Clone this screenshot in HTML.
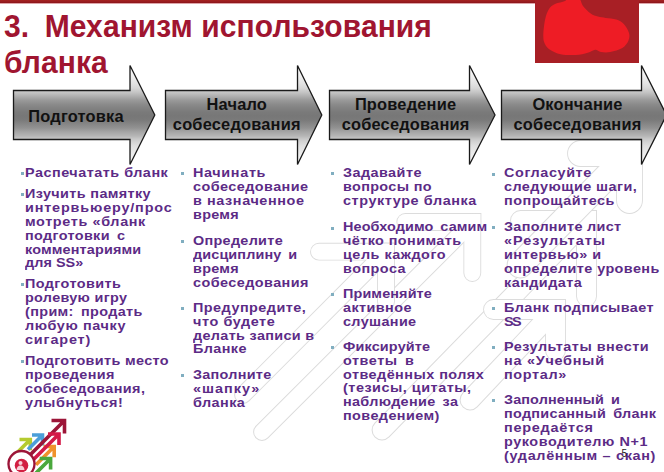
<!DOCTYPE html>
<html><head><meta charset="utf-8">
<style>
*{margin:0;padding:0;box-sizing:border-box}
html,body{width:664px;height:472px;overflow:hidden;background:#fff}
body{position:relative;font-family:"Liberation Sans",sans-serif}
.abs{position:absolute}
#topbar{left:0;top:0;width:664px;height:3px;background:linear-gradient(#a5231f,#9a1d20 50%,#8a151a);box-shadow:0 1px 0 rgba(170,30,40,0.4)}
#redbox{left:535px;top:0;width:104px;height:63px;background:#a81f25;overflow:hidden}
.title{position:absolute;left:4px;font-size:30px;font-weight:bold;color:#a01530;white-space:pre;line-height:34px;letter-spacing:0.08px;transform:scaleY(1.07);transform-origin:0 27px}
.title s{text-decoration:none;letter-spacing:-0.6px}
.atext{position:absolute;font-size:16.4px;letter-spacing:0.2px;font-weight:bold;color:#111;text-align:center;line-height:20px;white-space:nowrap}
.ln{position:absolute;font-size:12px;font-weight:bold;color:#5c2b86;white-space:pre;line-height:13.8px;transform-origin:0 0;transform:scaleX(1.2)}
.ln i{font-style:normal;letter-spacing:-1px}
.b{position:absolute;width:3px;height:3px;background:#80aec0}
</style></head><body>
<!-- WM -->
<svg class="abs" style="left:0;top:0" width="664" height="472">
<g fill="none" stroke="#dcdcdc" stroke-width="1.8"><path d="M405.3 214.0 H480.3 V230.0 H405.3 A8.0 8.0 0 0 1 405.3 214.0 Z"/><path d="M480.3 214.0 V273.0 A8.0 8.0 0 0 1 464.3 273.0 V214.0 Z"/></g>
<g stroke="#dcdcdc"><line x1="472.3" y1="222.0" x2="262.0" y2="432.0" stroke-width="17.8" stroke-linecap="round"/></g>
<g fill="#fff" stroke="none"><path d="M405.3 214.0 H480.3 V230.0 H405.3 A8.0 8.0 0 0 1 405.3 214.0 Z"/><path d="M480.3 214.0 V273.0 A8.0 8.0 0 0 1 464.3 273.0 V214.0 Z"/></g>
<g stroke="#fff"><line x1="472.3" y1="222.0" x2="262.0" y2="432.0" stroke-width="15.8" stroke-linecap="round"/></g>
<g fill="none" stroke="#dcdcdc" stroke-width="1.8"><path d="M319.0 243.7 H394.0 V259.7 H319.0 A8.0 8.0 0 0 1 319.0 243.7 Z"/><path d="M394.0 243.7 V301.7 A8.0 8.0 0 0 1 378.0 301.7 V243.7 Z"/></g>
<g stroke="#dcdcdc"><line x1="386.0" y1="251.7" x2="243.0" y2="395.0" stroke-width="17.8" stroke-linecap="round"/></g>
<g fill="#fff" stroke="none"><path d="M319.0 243.7 H394.0 V259.7 H319.0 A8.0 8.0 0 0 1 319.0 243.7 Z"/><path d="M394.0 243.7 V301.7 A8.0 8.0 0 0 1 378.0 301.7 V243.7 Z"/></g>
<g stroke="#fff"><line x1="386.0" y1="251.7" x2="243.0" y2="395.0" stroke-width="15.8" stroke-linecap="round"/></g>
<g fill="none" stroke="#dcdcdc" stroke-width="1.8"><path d="M520.5 211.0 H596.0 V230.0 H520.5 A9.5 9.5 0 0 1 520.5 211.0 Z"/><path d="M596.0 211.0 V296.5 A9.5 9.5 0 0 1 577.0 296.5 V211.0 Z"/></g>
<g stroke="#dcdcdc"><line x1="586.5" y1="220.5" x2="382.0" y2="430.0" stroke-width="20.8" stroke-linecap="round"/></g>
<g fill="#fff" stroke="none"><path d="M520.5 211.0 H596.0 V230.0 H520.5 A9.5 9.5 0 0 1 520.5 211.0 Z"/><path d="M596.0 211.0 V296.5 A9.5 9.5 0 0 1 577.0 296.5 V211.0 Z"/></g>
<g stroke="#fff"><line x1="586.5" y1="220.5" x2="382.0" y2="430.0" stroke-width="18.8" stroke-linecap="round"/></g>
<g fill="none" stroke="#dcdcdc" stroke-width="1.8"><path d="M580.5 141.0 H642.0 V166.0 H580.5 A12.5 12.5 0 0 1 580.5 141.0 Z"/><path d="M642.0 141.0 V200.5 A12.5 12.5 0 0 1 617.0 200.5 V141.0 Z"/></g>
<g stroke="#dcdcdc"><line x1="629.5" y1="153.5" x2="520.0" y2="265.0" stroke-width="26.8" stroke-linecap="round"/></g>
<g fill="#fff" stroke="none"><path d="M580.5 141.0 H642.0 V166.0 H580.5 A12.5 12.5 0 0 1 580.5 141.0 Z"/><path d="M642.0 141.0 V200.5 A12.5 12.5 0 0 1 617.0 200.5 V141.0 Z"/></g>
<g stroke="#fff"><line x1="629.5" y1="153.5" x2="520.0" y2="265.0" stroke-width="24.8" stroke-linecap="round"/></g>
<g fill="none" stroke="#dcdcdc" stroke-width="1.8"><path d="M493.5 300.0 H565.0 V319.0 H493.5 A9.5 9.5 0 0 1 493.5 300.0 Z"/><path d="M565.0 300.0 V350.5 A9.5 9.5 0 0 1 546.0 350.5 V300.0 Z"/></g>
<g stroke="#dcdcdc"><line x1="555.5" y1="309.5" x2="470.0" y2="400.0" stroke-width="20.8" stroke-linecap="round"/></g>
<g fill="#fff" stroke="none"><path d="M493.5 300.0 H565.0 V319.0 H493.5 A9.5 9.5 0 0 1 493.5 300.0 Z"/><path d="M565.0 300.0 V350.5 A9.5 9.5 0 0 1 546.0 350.5 V300.0 Z"/></g>
<g stroke="#fff"><line x1="555.5" y1="309.5" x2="470.0" y2="400.0" stroke-width="18.8" stroke-linecap="round"/></g>
</svg>
<!-- /WM -->
<svg class="abs" style="left:0;top:0" width="664" height="472">
<defs>
<linearGradient id="g" x1="0" y1="65" x2="0" y2="165" gradientUnits="userSpaceOnUse">
<stop offset="0.0000" stop-color="#ffffff"/>
<stop offset="0.1000" stop-color="#f2f2f2"/>
<stop offset="0.1900" stop-color="#e2e2e2"/>
<stop offset="0.2300" stop-color="#d8d8d8"/>
<stop offset="0.2700" stop-color="#c6c6c6"/>
<stop offset="0.3100" stop-color="#b0b0b0"/>
<stop offset="0.3500" stop-color="#9a9a9a"/>
<stop offset="0.3900" stop-color="#8c8c8c"/>
<stop offset="0.4300" stop-color="#828282"/>
<stop offset="0.4700" stop-color="#7a7a7a"/>
<stop offset="0.5100" stop-color="#777777"/>
<stop offset="0.5500" stop-color="#7a7a7a"/>
<stop offset="0.5900" stop-color="#868686"/>
<stop offset="0.6300" stop-color="#929292"/>
<stop offset="0.6700" stop-color="#a6a6a6"/>
<stop offset="0.7100" stop-color="#b6b6b6"/>
<stop offset="0.7400" stop-color="#c8c8c8"/>
<stop offset="0.7700" stop-color="#d4d4d4"/>
<stop offset="0.8100" stop-color="#e0e0e0"/>
<stop offset="0.9000" stop-color="#eeeeee"/>
<stop offset="1.0000" stop-color="#fafafa"/>
</linearGradient>
</defs>
<g fill="url(#g)" stroke="#1a1a1a" stroke-width="1.3">
<path d="M13.5 90.5 H130.0 V65.5 L154.8 115 L130.0 164.5 V139.5 H13.5 Z"/>
<path d="M165.5 90.5 H297.5 V65.5 L321.8 115 L297.5 164.5 V139.5 H165.5 Z"/>
<path d="M329.5 90.5 H469.5 V65.5 L495.0 115 L469.5 164.5 V139.5 H329.5 Z"/>
<path d="M501.5 90.5 H641.5 V65.5 L666.5 115 L641.5 164.5 V139.5 H501.5 Z"/>
</g>
</svg>
<div id="topbar" class="abs"></div>
<div id="redbox" class="abs">
<svg width="104" height="63" style="position:absolute;left:0;top:0">
<path fill="#ee1c25" d="M8.3 36.0 C8.3 32.0 9.1 24.5 10.0 20.0 C10.9 15.5 12.3 11.7 14.0 9.0 C15.7 6.3 17.3 5.3 20.0 4.0 C22.7 2.7 27.8 2.0 30.0 1.0 C32.2 0.0 30.7 -1.5 33.0 -2.0 C35.3 -2.5 41.2 -3.3 43.7 -2.0 C46.2 -0.7 46.0 3.4 48.0 6.0 C50.0 8.6 53.2 11.7 55.7 13.5 C58.2 15.3 60.5 15.9 63.0 16.6 C65.5 17.4 67.8 17.5 70.8 18.0 C73.8 18.5 78.3 18.6 81.3 19.6 C84.3 20.6 86.7 21.8 88.8 24.0 C90.9 26.2 93.2 30.2 94.0 33.0 C94.8 35.8 94.5 38.2 93.4 40.7 C92.3 43.2 90.3 46.1 87.3 48.0 C84.3 49.9 78.8 51.3 75.3 52.0 C71.8 52.7 68.5 52.4 66.0 52.0 C63.5 51.6 62.4 49.6 60.2 49.7 C58.0 49.8 56.0 51.8 52.7 52.7 C49.4 53.6 45.1 54.8 40.6 55.0 C36.1 55.2 29.9 55.1 25.6 54.2 C21.3 53.3 17.6 51.5 15.0 49.7 C12.4 48.0 10.9 46.0 9.8 43.7 C8.7 41.4 8.3 40.0 8.3 36.0Z"/>
</svg>
</div>
<div class="title" style="top:10px">3.<s>  </s>Механизм использования</div>
<div class="title" style="top:45.6px">бланка</div>

<div class="atext" style="left:28.3px;top:105.8px">Подготовка</div>
<div class="atext" style="left:136.8px;width:200px;top:94px">Начало<br>собеседования</div>
<div class="atext" style="left:305.6px;width:200px;top:94px">Проведение<br>собеседования</div>
<div class="atext" style="left:477.5px;width:200px;top:94px">Окончание<br>собеседования</div>

<!-- COLS -->
<div class="b" style="left:20.5px;top:171.9px"></div>
<div class="b" style="left:20.5px;top:192.9px"></div>
<div class="b" style="left:20.5px;top:283.0px"></div>
<div class="b" style="left:20.5px;top:359.9px"></div>
<div class="ln" style="left:25.0px;top:166.71px;letter-spacing:0.421px">Распечатать бланк</div>
<div class="ln" style="left:25.0px;top:187.71px;letter-spacing:0.317px">Изучить памятку</div>
<div class="ln" style="left:25.0px;top:201.66px;letter-spacing:0.700px">интервьюеру/прос</div>
<div class="ln" style="left:25.0px;top:215.61px;letter-spacing:0.528px">мотреть «бланк</div>
<div class="ln" style="left:25.0px;top:229.56px;letter-spacing:0.303px">подготовки<i> </i> с</div>
<div class="ln" style="left:25.0px;top:243.51px;letter-spacing:0.136px">комментариями</div>
<div class="ln" style="left:25.0px;top:257.46px;letter-spacing:0.039px">для SS»</div>
<div class="ln" style="left:25.0px;top:277.81px;letter-spacing:0.350px">Подготовить</div>
<div class="ln" style="left:25.0px;top:291.76px;letter-spacing:0.264px">ролевую игру</div>
<div class="ln" style="left:25.0px;top:305.71px;letter-spacing:0.305px">(прим:<i> </i> продать</div>
<div class="ln" style="left:25.0px;top:319.66px;letter-spacing:0.517px">любую пачку</div>
<div class="ln" style="left:25.0px;top:333.61px;letter-spacing:0.710px">сигарет)</div>
<div class="ln" style="left:25.0px;top:354.71px;letter-spacing:0.306px">Подготовить место</div>
<div class="ln" style="left:25.0px;top:368.66px;letter-spacing:0.307px">проведения</div>
<div class="ln" style="left:25.0px;top:382.61px;letter-spacing:0.374px">собеседования,</div>
<div class="ln" style="left:25.0px;top:396.56px;letter-spacing:0.467px">улыбнуться!</div>
<div class="b" style="left:181.1px;top:171.9px"></div>
<div class="b" style="left:181.1px;top:240.3px"></div>
<div class="b" style="left:181.1px;top:306.8px"></div>
<div class="b" style="left:181.1px;top:374.0px"></div>
<div class="ln" style="left:193.0px;top:166.71px;letter-spacing:0.543px">Начинать</div>
<div class="ln" style="left:193.0px;top:180.66px;letter-spacing:0.372px">собеседование</div>
<div class="ln" style="left:193.0px;top:194.61px;letter-spacing:0.497px">в назначенное</div>
<div class="ln" style="left:193.0px;top:208.56px;letter-spacing:0.233px">время</div>
<div class="ln" style="left:193.0px;top:235.11px;letter-spacing:0.252px">Определите</div>
<div class="ln" style="left:193.0px;top:249.06px;letter-spacing:0.108px">дисциплину<i> </i> и</div>
<div class="ln" style="left:193.0px;top:263.01px;letter-spacing:0.233px">время</div>
<div class="ln" style="left:193.0px;top:276.96px;letter-spacing:0.372px">собеседования</div>
<div class="ln" style="left:193.0px;top:301.61px;letter-spacing:0.400px">Предупредите,</div>
<div class="ln" style="left:193.0px;top:315.56px;letter-spacing:0.493px">что будете</div>
<div class="ln" style="left:193.0px;top:329.51px;letter-spacing:0.281px">делать записи в</div>
<div class="ln" style="left:193.0px;top:343.46px;letter-spacing:0.333px">Бланке</div>
<div class="ln" style="left:193.0px;top:368.81px;letter-spacing:0.233px">Заполните</div>
<div class="ln" style="left:193.0px;top:382.76px;letter-spacing:0.844px">«шапку»</div>
<div class="ln" style="left:193.0px;top:396.71px;letter-spacing:0.367px">бланка</div>
<div class="b" style="left:330.5px;top:171.9px"></div>
<div class="b" style="left:330.5px;top:226.5px"></div>
<div class="b" style="left:330.5px;top:293.4px"></div>
<div class="b" style="left:330.5px;top:345.8px"></div>
<div class="ln" style="left:343.0px;top:166.71px;letter-spacing:0.379px">Задавайте</div>
<div class="ln" style="left:343.0px;top:180.66px;letter-spacing:0.289px">вопросы по</div>
<div class="ln" style="left:343.0px;top:194.61px;letter-spacing:0.489px">структуре бланка</div>
<div class="ln" style="left:343.0px;top:221.31px;letter-spacing:0.098px">Необходимо<i> </i> самим</div>
<div class="ln" style="left:343.0px;top:235.26px;letter-spacing:0.349px">чётко понимать</div>
<div class="ln" style="left:343.0px;top:249.21px;letter-spacing:0.430px">цель каждого</div>
<div class="ln" style="left:343.0px;top:263.16px;letter-spacing:0.400px">вопроса</div>
<div class="ln" style="left:343.0px;top:288.21px;letter-spacing:0.104px">Применяйте</div>
<div class="ln" style="left:343.0px;top:302.16px;letter-spacing:0.352px">активное</div>
<div class="ln" style="left:343.0px;top:316.11px;letter-spacing:0.305px">слушание</div>
<div class="ln" style="left:343.0px;top:340.61px;letter-spacing:0.141px">Фиксируйте</div>
<div class="ln" style="left:343.0px;top:354.56px;letter-spacing:0.463px">ответы<i> </i> в</div>
<div class="ln" style="left:343.0px;top:368.51px;letter-spacing:0.389px">отведённых полях</div>
<div class="ln" style="left:343.0px;top:382.46px;letter-spacing:0.433px">(тезисы, цитаты,</div>
<div class="ln" style="left:343.0px;top:396.41px;letter-spacing:0.272px">наблюдение<i> </i> за</div>
<div class="ln" style="left:343.0px;top:410.36px;letter-spacing:0.350px">поведением)</div>
<div class="b" style="left:492.2px;top:172.5px"></div>
<div class="b" style="left:492.2px;top:226.0px"></div>
<div class="b" style="left:492.2px;top:306.8px"></div>
<div class="b" style="left:492.2px;top:346.3px"></div>
<div class="b" style="left:492.2px;top:399.1px"></div>
<div class="ln" style="left:504.0px;top:167.31px;letter-spacing:0.493px">Согласуйте</div>
<div class="ln" style="left:504.0px;top:181.26px;letter-spacing:0.376px">следующие шаги,</div>
<div class="ln" style="left:504.0px;top:195.21px;letter-spacing:0.430px">попрощайтесь</div>
<div class="ln" style="left:504.0px;top:220.81px;letter-spacing:0.259px">Заполните лист</div>
<div class="ln" style="left:504.0px;top:234.76px;letter-spacing:0.833px">«Результаты</div>
<div class="ln" style="left:504.0px;top:248.71px;letter-spacing:0.400px">интервью» и</div>
<div class="ln" style="left:504.0px;top:262.66px;letter-spacing:0.351px">определите уровень</div>
<div class="ln" style="left:504.0px;top:276.61px;letter-spacing:0.379px">кандидата</div>
<div class="ln" style="left:504.0px;top:301.61px;letter-spacing:0.327px">Бланк подписывает</div>
<div class="ln" style="left:504.0px;top:315.56px;letter-spacing:-1.267px">SS</div>
<div class="ln" style="left:504.0px;top:341.11px;letter-spacing:0.431px">Результаты внести</div>
<div class="ln" style="left:504.0px;top:355.06px;letter-spacing:0.617px">на «Учебный</div>
<div class="ln" style="left:504.0px;top:369.01px;letter-spacing:0.539px">портал»</div>
<div class="ln" style="left:504.0px;top:393.91px;letter-spacing:0.105px">Заполненный<i> </i> и</div>
<div class="ln" style="left:504.0px;top:407.86px;letter-spacing:0.253px">подписанный<i> </i> бланк</div>
<div class="ln" style="left:504.0px;top:421.81px;letter-spacing:0.641px">передаётся</div>
<div class="ln" style="left:504.0px;top:435.76px;letter-spacing:0.467px">руководителю N+1</div>
<div class="ln" style="left:504.0px;top:449.71px;letter-spacing:0.567px">(удалённым – скан)</div>
<!-- /COLS -->
<svg class="abs" style="left:0;top:400px" width="80" height="72" viewBox="0 400 80 72">
<g fill="none" stroke-width="3.6" stroke-linejoin="miter" stroke-linecap="butt">
<path stroke="#b5cb2f" d="M19.5 439.5 H30.3 V450.3 M30.3 439.5 L17 452.8"/>
<path stroke="#4b9fd9" d="M32 435 H42.5 V445.5 M42.5 435 L28 449.5"/>
<path stroke="#f0922c" d="M43.5 446.5 H54.2 V457.2 M54.2 446.5 L36 464.7"/>
<path stroke="#4aa83c" d="M39.7 458.5 H50.6 V469.4 M50.6 458.5 L36 473.1"/>
<path stroke="#9c1538" d="M51.5 420.5 H64.5 V433.5 M64.5 420.5 L28 457"/>
<path stroke="#d41a48" d="M48 434 H59 V445 M59 434 L33 460"/>
</g>
<circle cx="21.5" cy="464" r="13" fill="#fff" stroke="#9c1538" stroke-width="2.4"/>
<circle cx="21.5" cy="465.5" r="6.8" fill="#d21f42"/>
<circle cx="20.5" cy="463" r="2" fill="#f6d0d8"/>
<path d="M16.5 470 Q17 465.5 20.5 465.5 Q24 465.5 24.5 470 Z" fill="#f6d0d8"/>
</svg>
<div class="abs" style="left:621.5px;top:447.5px;font-size:10px;line-height:11px;color:#222">5</div>
</body></html>
